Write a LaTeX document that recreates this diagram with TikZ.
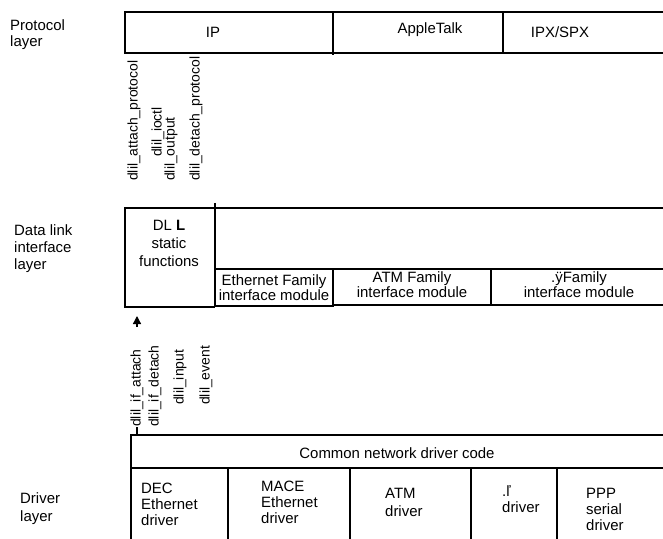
\documentclass[tikz,border=0pt]{standalone}
\usepackage{fontspec}
\setmainfont{Liberation Sans}
\usetikzlibrary{arrows.meta}

\begin{document}
\begin{tikzpicture}[
        x=1bp, y=-1bp,
        >={Triangle[length=8bp, width=8bp]},
        every node/.style={inner sep=0pt, font=\fontsize{15}{16}\selectfont},
        cell/.style={draw=black, line width=1.3bp},
        heavy/.style={draw=black, line width=2.2bp},
        txt/.style={align=center},
        lefttxt/.style={align=left, anchor=west},
        call/.style={rotate=90, anchor=west, font=\fontsize{14}{16}\selectfont},
        arrow/.style={->, line width=1.3bp}
    ]
    \useasboundingbox (0,0) rectangle (663,539);
    \clip (0,0) rectangle (663,539);

    % --- Layer names ---
    \node[lefttxt] (protolayer) at (10,35) {Protocol\\layer};
    \node[lefttxt, font=\fontsize{15}{17}\selectfont] (dlilayer) at (14,249) {Data link\\interface\\layer};
    \node[lefttxt, font=\fontsize{15}{18}\selectfont] (drvlayer) at (20,509) {Driver\\layer};

    % --- Protocol layer ---
    \draw[cell] (125,12) rectangle (675,53);
    \draw[cell] (333,12) -- (333,55);
    \draw[cell] (503,12) -- (503,53);
    \node[txt] (ip) at (213,32) {IP};
    \node[txt] (appletalk) at (430,30) {AppleTalk};
    \node[txt] (ipx) at (560,32) {IPX/SPX};

    % --- Data link interface layer ---
    \draw[cell] (675,208) -- (125,208) -- (125,307) -- (215,307);
    \draw[cell] (215,203) -- (215,307);
    \draw[cell] (215,269) rectangle (333,306);
    \draw[heavy] (333,269) rectangle (491,305);
    \draw[heavy] (491,269) rectangle (680,305);
    \node[txt, font=\fontsize{15}{18}\selectfont] (dllstatic) at (169,243) {DL \textbf{L}\\static\\functions};
    \node[txt, font=\fontsize{15}{15}\selectfont] (ethfam) at (274,288) {Ethernet Family\\interface module};
    \node[txt, font=\fontsize{15}{15}\selectfont] (atmfam) at (412,285) {ATM Family\\interface module};
    \node[txt, font=\fontsize{15}{15}\selectfont] (otherfam) at (579,285) {.ÿFamily\\interface module};

    % --- Driver layer ---
    \coordinate (drvtop) at (131,435);
    \draw[cell] (drvtop) rectangle (680,550);
    \draw[cell] (131,468) -- (680,468);
    \foreach \xd in {228,350,471,557}
        \draw[cell] (\xd,468) -- (\xd,550);
    \node[txt] (common) at (397,453) {Common network driver code};
    \node[lefttxt] (decdrv) at (141,504) {DEC\\Ethernet\\driver};
    \node[lefttxt] (macedrv) at (261,502) {MACE\\Ethernet\\driver};
    \node[lefttxt, font=\fontsize{15}{18}\selectfont] (atmdrv) at (385,502) {ATM\\driver};
    \node[lefttxt] (otherdrv) at (502,499) {.ľ\\driver};
    \node[lefttxt] (pppdrv) at (586,509) {PPP\\serial\\driver};

    % --- Calls ---
    \node[call] (attproto) at (134,181) {dlil\_attach\_protocol};
    \node[call] (ioctl) at (158,157) {dlil\_ioctl};
    \node[call] (output) at (171,181) {dlil\_output};
    \node[call] (detproto) at (196,181) {dlil\_detach\_protocol};

    \node[call] (ifattach) at (137,427) {dlil\_if\_attach};
    \node[call] (ifdetach) at (155,427) {dlil\_if\_detach};
    \node[call] (input) at (180,405) {dlil\_input};
    \node[call] (event) at (206,405) {dlil\_event};

    % --- Connections ---
    \coordinate (arrtail) at (137,327);
    \coordinate (arrtip) at (137,316);
    \draw[arrow] (arrtail) -- (arrtip);
    \draw[cell] (ifattach.west) -- (ifattach.west |- drvtop);

\end{tikzpicture}
\end{document}
